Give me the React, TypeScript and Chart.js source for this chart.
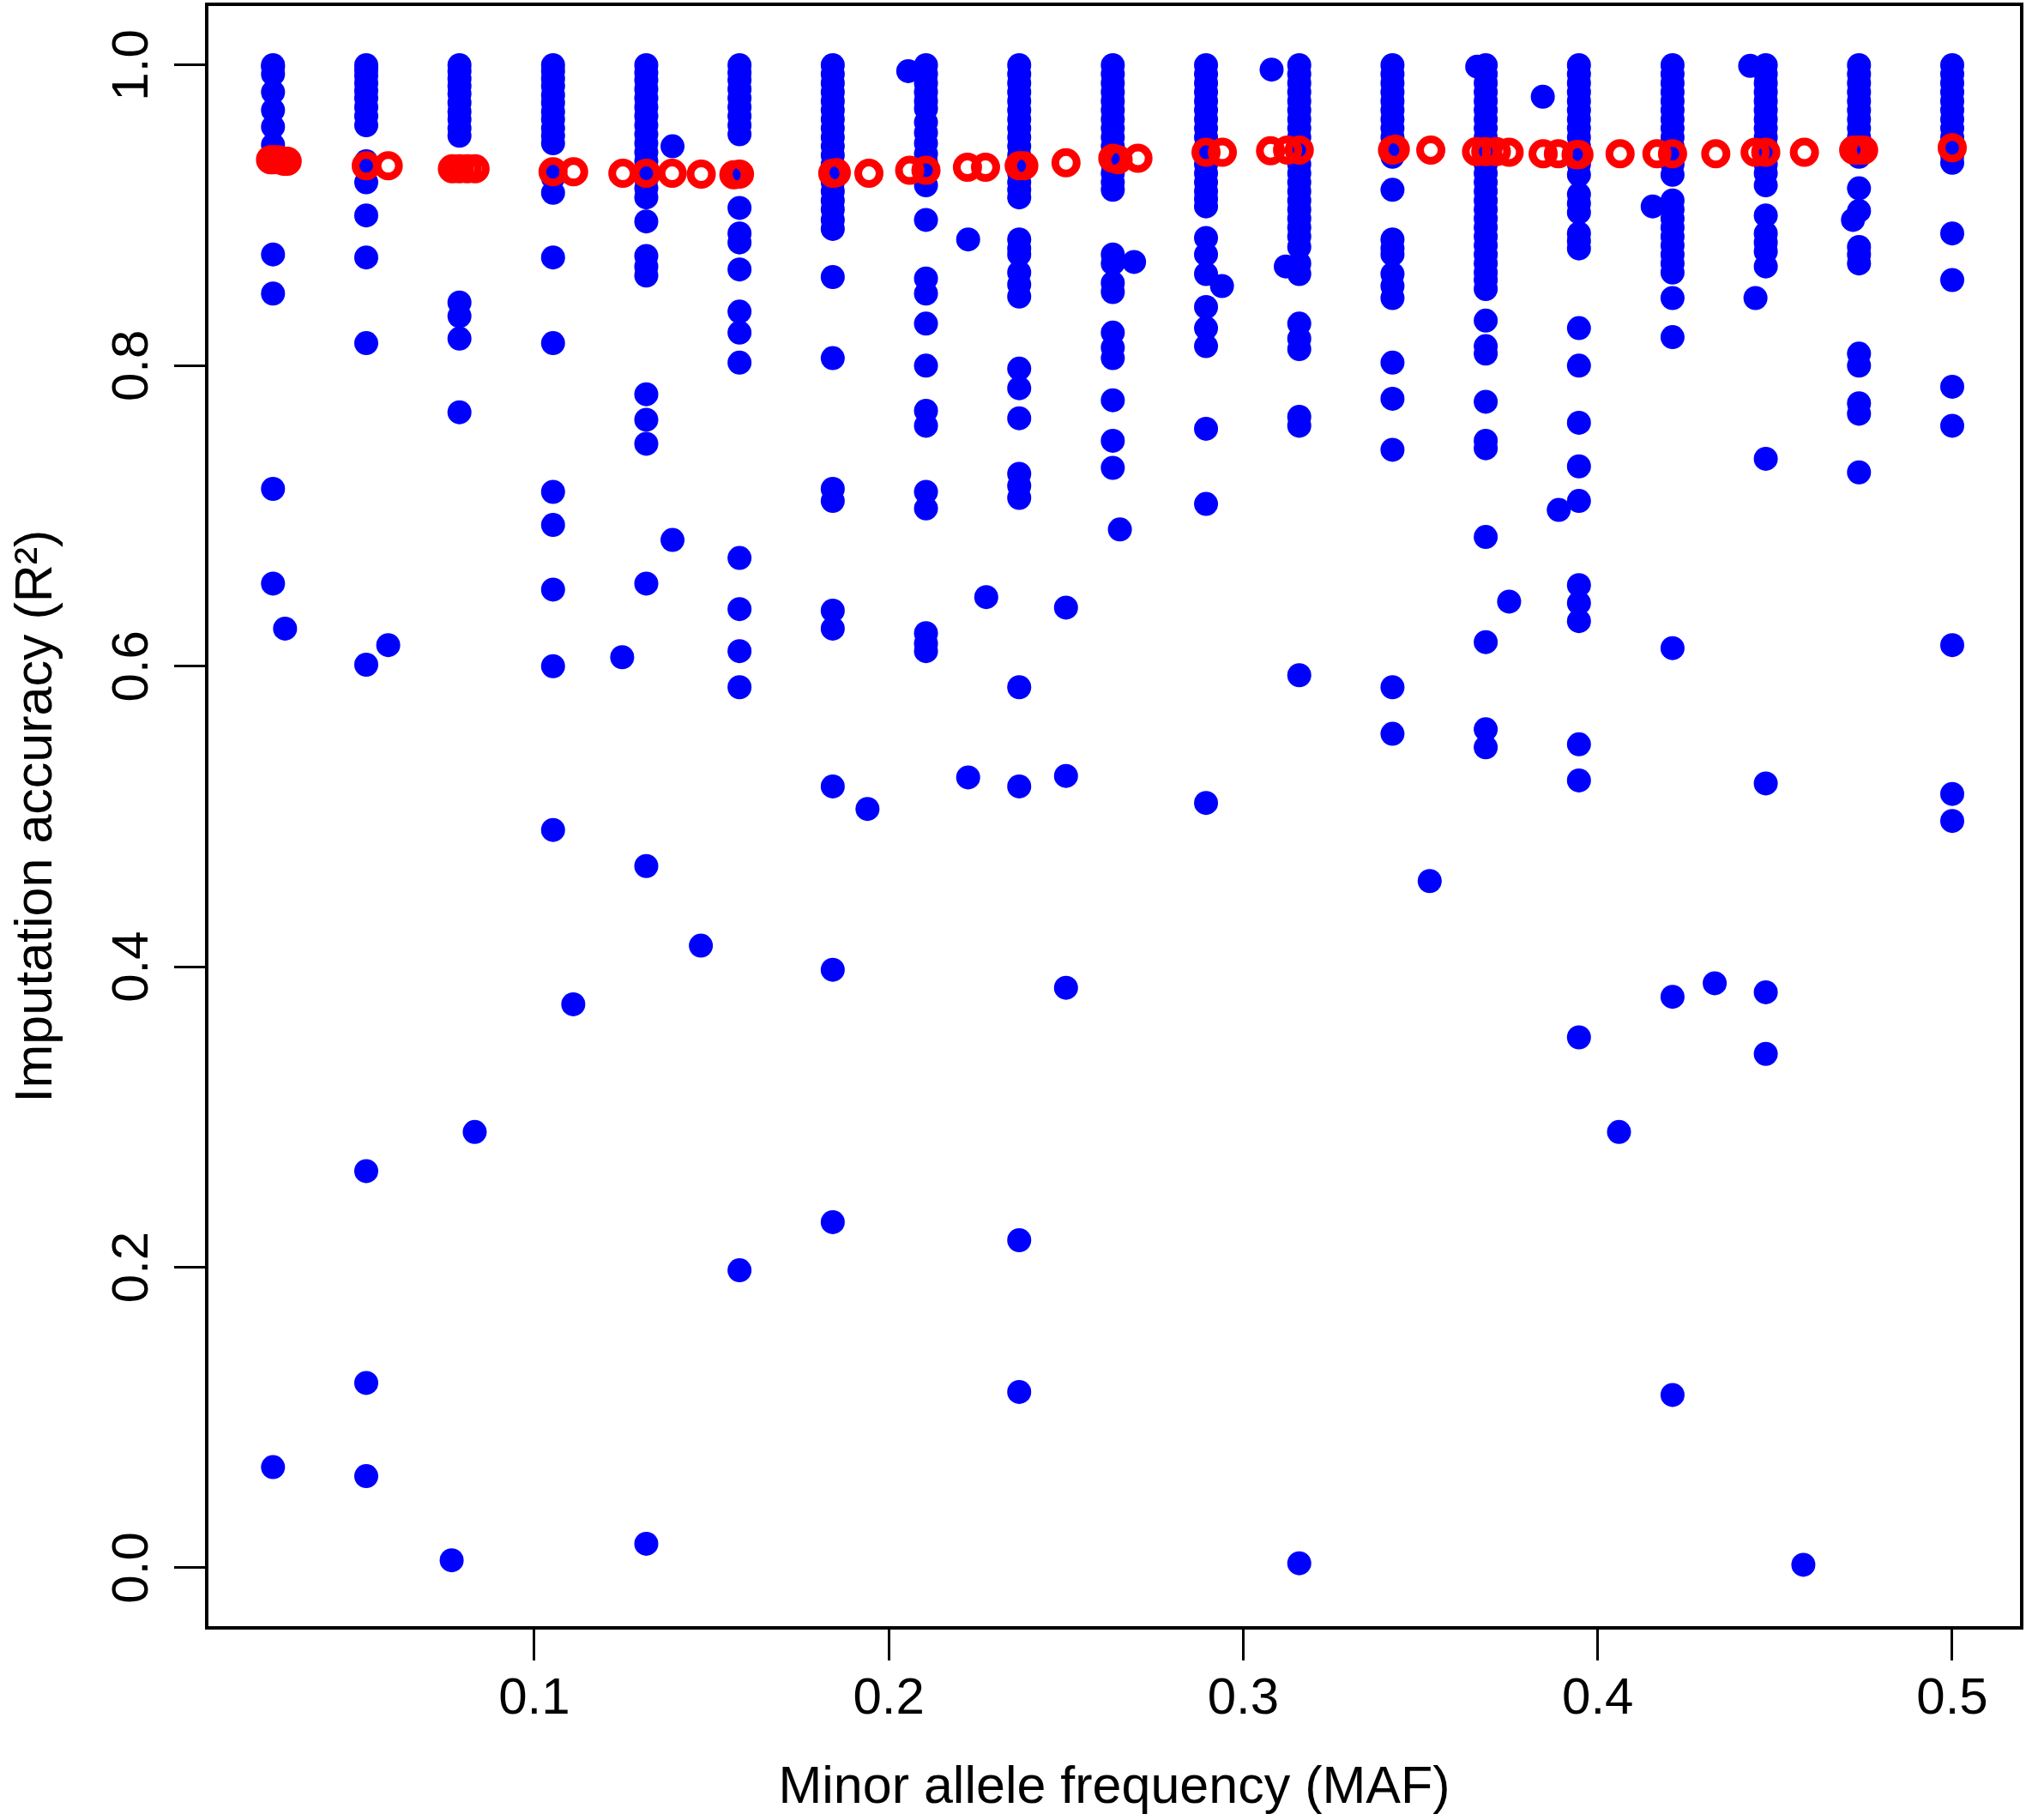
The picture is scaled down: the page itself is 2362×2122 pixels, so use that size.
import React, { useEffect, useRef } from 'react';
import Chart from 'chart.js/auto';

// MAF columns (k/38 chromosomes) and the R² of the SNPs at each
const columnMaf = [0.0263, 0.0526, 0.0789, 0.1053, 0.1316, 0.1579, 0.1842, 0.2105, 0.2368, 0.2632,
  0.2895, 0.3158, 0.3421, 0.3684, 0.3947, 0.4211, 0.4474, 0.4737, 0.5];

const columnR2: number[][] = [
  [1.0, 0.999, 0.994, 0.982, 0.97, 0.959, 0.947, 0.938, 0.874, 0.848, 0.718, 0.655, 0.067],
  [1.0, 0.997, 0.993, 0.988, 0.983, 0.978, 0.972, 0.966, 0.96, 0.936, 0.922, 0.9, 0.872, 0.815, 0.601, 0.264, 0.123, 0.061],
  [1.0, 0.996, 0.991, 0.986, 0.981, 0.975, 0.969, 0.964, 0.958, 0.953, 0.932, 0.842, 0.833, 0.818, 0.769],
  [1.0, 0.996, 0.991, 0.986, 0.98, 0.975, 0.969, 0.964, 0.958, 0.953, 0.948, 0.93, 0.925, 0.915, 0.872, 0.815, 0.716, 0.694, 0.651, 0.6, 0.491],
  [1.0, 0.995, 0.99, 0.984, 0.978, 0.972, 0.966, 0.96, 0.954, 0.948, 0.942, 0.936, 0.93, 0.924, 0.918, 0.912, 0.896, 0.873, 0.866, 0.86, 0.781, 0.764, 0.748, 0.655, 0.467, 0.016],
  [1.0, 0.995, 0.99, 0.984, 0.978, 0.972, 0.966, 0.96, 0.954, 0.927, 0.905, 0.888, 0.882, 0.864, 0.836, 0.822, 0.802, 0.672, 0.638, 0.61, 0.586, 0.198],
  [1.0, 0.994, 0.988, 0.982, 0.976, 0.97, 0.964, 0.958, 0.952, 0.946, 0.94, 0.934, 0.928, 0.922, 0.916, 0.91, 0.904, 0.897, 0.891, 0.859, 0.805, 0.718, 0.71, 0.637, 0.625, 0.52, 0.398, 0.23],
  [1.0, 0.994, 0.988, 0.982, 0.976, 0.971, 0.962, 0.955, 0.948, 0.941, 0.935, 0.929, 0.92, 0.897, 0.858, 0.848, 0.828, 0.8, 0.77, 0.76, 0.716, 0.705, 0.622, 0.615, 0.61],
  [1.0, 0.994, 0.988, 0.982, 0.976, 0.97, 0.964, 0.958, 0.952, 0.946, 0.94, 0.934, 0.928, 0.922, 0.917, 0.912, 0.884, 0.878, 0.874, 0.862, 0.854, 0.846, 0.798, 0.785, 0.765, 0.728, 0.72, 0.712, 0.586, 0.52, 0.218, 0.117],
  [1.0, 0.994, 0.988, 0.982, 0.976, 0.97, 0.964, 0.958, 0.952, 0.946, 0.94, 0.934, 0.928, 0.922, 0.917, 0.874, 0.868, 0.855, 0.849, 0.822, 0.812, 0.805, 0.777, 0.75, 0.732],
  [1.0, 0.994, 0.988, 0.982, 0.976, 0.97, 0.964, 0.958, 0.952, 0.946, 0.94, 0.934, 0.928, 0.922, 0.916, 0.911, 0.906, 0.885, 0.874, 0.861, 0.839, 0.825, 0.813, 0.758, 0.708, 0.509],
  [1.0, 0.994, 0.988, 0.982, 0.976, 0.97, 0.964, 0.958, 0.952, 0.946, 0.94, 0.934, 0.928, 0.922, 0.916, 0.91, 0.904, 0.898, 0.892, 0.886, 0.879, 0.868, 0.861, 0.828, 0.818, 0.811, 0.766, 0.76, 0.594, 0.003],
  [1.0, 0.994, 0.988, 0.982, 0.976, 0.97, 0.964, 0.958, 0.952, 0.946, 0.939, 0.917, 0.884, 0.878, 0.874, 0.861, 0.853, 0.845, 0.802, 0.778, 0.744, 0.586, 0.555],
  [1.0, 0.994, 0.988, 0.982, 0.976, 0.97, 0.964, 0.958, 0.952, 0.946, 0.94, 0.934, 0.928, 0.922, 0.916, 0.91, 0.904, 0.898, 0.892, 0.886, 0.88, 0.874, 0.868, 0.862, 0.857, 0.851, 0.83, 0.813, 0.808, 0.776, 0.75, 0.745, 0.686, 0.616, 0.558, 0.546],
  [1.0, 0.994, 0.988, 0.982, 0.976, 0.97, 0.964, 0.958, 0.952, 0.946, 0.94, 0.934, 0.927, 0.914, 0.908, 0.902, 0.888, 0.883, 0.878, 0.825, 0.8, 0.762, 0.733, 0.71, 0.654, 0.642, 0.63, 0.548, 0.524, 0.353],
  [1.0, 0.994, 0.988, 0.982, 0.976, 0.97, 0.964, 0.958, 0.952, 0.946, 0.94, 0.934, 0.927, 0.91, 0.904, 0.898, 0.892, 0.886, 0.88, 0.874, 0.868, 0.862, 0.845, 0.819, 0.612, 0.38, 0.115],
  [1.0, 0.994, 0.988, 0.982, 0.976, 0.97, 0.964, 0.958, 0.952, 0.946, 0.94, 0.934, 0.928, 0.92, 0.9, 0.888, 0.882, 0.876, 0.866, 0.738, 0.522, 0.383, 0.342],
  [1.0, 0.994, 0.988, 0.982, 0.976, 0.97, 0.964, 0.958, 0.952, 0.946, 0.939, 0.918, 0.903, 0.879, 0.874, 0.868, 0.808, 0.8, 0.775, 0.768, 0.729],
  [1.0, 0.994, 0.988, 0.982, 0.976, 0.97, 0.964, 0.958, 0.952, 0.946, 0.94, 0.935, 0.888, 0.857, 0.786, 0.76, 0.614, 0.515, 0.497],
];

// SNPs whose MAF falls between the columns (missing genotypes)
const offMaf = [0.0297, 0.0588, 0.0767, 0.0832, 0.111, 0.1248, 0.139, 0.139, 0.147, 0.194, 0.2055, 0.2224,
  0.2224, 0.2275, 0.25, 0.25, 0.25, 0.2652, 0.2692, 0.294, 0.308, 0.312, 0.3526, 0.366, 0.375, 0.3845,
  0.389, 0.406, 0.4155, 0.433, 0.443, 0.4445, 0.458, 0.472];
const offR2 = [0.625, 0.614, 0.005, 0.29, 0.375, 0.606, 0.946, 0.684, 0.414, 0.505, 0.996, 0.884,
  0.526, 0.646, 0.639, 0.527, 0.386, 0.691, 0.869, 0.853, 0.997, 0.866, 0.457, 0.999, 0.643, 0.979,
  0.704, 0.29, 0.906, 0.389, 0.9995, 0.845, 0.002, 0.897];

// mean R² for each distinct MAF (red open circles)
const meanMaf = [0.0256, 0.0263, 0.0278, 0.0294, 0.0303, 0.0526, 0.0588, 0.0769, 0.0789, 0.0811, 0.0833,
  0.1053, 0.1111, 0.125, 0.1316, 0.1389, 0.1471, 0.1563, 0.1579, 0.1842, 0.1852, 0.1944, 0.2059, 0.2105,
  0.2222, 0.2273, 0.2368, 0.2381, 0.25, 0.2632, 0.2647, 0.2703, 0.2895, 0.2941, 0.3077, 0.3125, 0.3158,
  0.3421, 0.3429, 0.3529, 0.3658, 0.3684, 0.3714, 0.375, 0.3846, 0.3889, 0.3939, 0.3947, 0.4063, 0.4167,
  0.4211, 0.4333, 0.4444, 0.4474, 0.4583, 0.4722, 0.4737, 0.475, 0.5];
const meanR2 = [0.937, 0.937, 0.937, 0.936, 0.936, 0.933, 0.933, 0.931, 0.931, 0.931, 0.931,
  0.929, 0.929, 0.928, 0.928, 0.928, 0.9275, 0.927, 0.9275, 0.928, 0.9285, 0.928, 0.93, 0.93,
  0.932, 0.932, 0.933, 0.933, 0.935, 0.938, 0.937, 0.938, 0.942, 0.942, 0.943, 0.9435, 0.9435,
  0.9435, 0.944, 0.9435, 0.9425, 0.9425, 0.9425, 0.942, 0.941, 0.941, 0.9405, 0.9405, 0.941, 0.941,
  0.941, 0.941, 0.942, 0.942, 0.942, 0.9435, 0.9435, 0.9435, 0.945];

const xTickValues = [0.1, 0.2, 0.3, 0.4, 0.5];
const yTickValues = [0.0, 0.2, 0.4, 0.6, 0.8, 1.0];

const FONT = "'Liberation Sans', Arial, Helvetica, sans-serif";

const boxPlugin = {
  id: 'plotBox',
  afterDraw(chart: any) {
    const { ctx, chartArea } = chart;
    ctx.save();
    ctx.strokeStyle = '#000';
    ctx.lineWidth = 4;
    ctx.strokeRect(chartArea.left, chartArea.top, chartArea.right - chartArea.left, chartArea.bottom - chartArea.top);
    ctx.restore();
  },
};

const ImputationChart: React.FC = () => {
  const canvasRef = useRef<HTMLCanvasElement>(null);
  const chartRef = useRef<Chart | null>(null);

  useEffect(() => {
    if (!canvasRef.current) return;
    if (chartRef.current) chartRef.current.destroy();

    const snps: { x: number; y: number }[] = [];
    columnR2.forEach((vals, i) => vals.forEach((v) => snps.push({ x: columnMaf[i], y: v })));
    offMaf.forEach((m, i) => snps.push({ x: m, y: offR2[i] }));
    const means = meanMaf.map((m, i) => ({ x: m, y: meanR2[i] }));

    chartRef.current = new Chart(canvasRef.current, {
      type: 'scatter',
      data: {
        datasets: [
          {
            label: 'mean',
            data: means,
            pointRadius: 12.5,
            pointBorderWidth: 9,
            pointBorderColor: '#ff0000',
            pointBackgroundColor: 'rgba(0,0,0,0)',
          },
          {
            label: 'SNP',
            data: snps,
            pointRadius: 14,
            pointBorderWidth: 0,
            pointBackgroundColor: '#0000ff',
            pointBorderColor: '#0000ff',
          },
        ],
      },
      options: {
        responsive: false,
        devicePixelRatio: 1,
        animation: false,
        layout: { autoPadding: false, padding: { top: 5, right: 5, left: 0, bottom: 0 } },
        plugins: { legend: { display: false }, tooltip: { enabled: false } },
        scales: {
          x: {
            type: 'linear',
            min: 0.0076,
            max: 0.5196,
            afterBuildTicks: (scale: any) => {
              scale.ticks = xTickValues.map((v) => ({ value: v }));
            },
            afterFit: (scale: any) => {
              scale.height = 224;
              scale.paddingLeft = 0;
              scale.paddingRight = 0;
            },
            ticks: {
              color: '#000',
              font: { family: FONT, size: 60 },
              padding: 9,
              maxRotation: 0,
              callback: (v: any) => String(v),
            },
            grid: { drawOnChartArea: false, drawTicks: true, tickLength: 38, tickColor: '#000', lineWidth: 3 },
            border: { display: false },
            title: {
              display: true,
              text: 'Minor allele frequency (MAF)',
              color: '#000',
              font: { family: FONT, size: 61, lineHeight: 1.2 },
              padding: { top: 0, bottom: 0 },
            },
          },
          y: {
            type: 'linear',
            min: -0.04,
            max: 1.0405,
            afterBuildTicks: (scale: any) => {
              scale.ticks = yTickValues.map((v) => ({ value: v }));
            },
            afterFit: (scale: any) => {
              scale.width = 241;
              scale.paddingTop = 0;
              scale.paddingBottom = 0;
            },
            ticks: {
              color: '#000',
              font: { family: FONT, size: 60 },
              padding: 6,
              minRotation: 90,
              maxRotation: 90,
              crossAlign: 'center',
              callback: (v: any) => Number(v).toFixed(1),
            },
            grid: { drawOnChartArea: false, drawTicks: true, tickLength: 38, tickColor: '#000', lineWidth: 3 },
            border: { display: false },
            title: {
              display: true,
              text: 'Imputation accuracy (R²)',
              color: '#000',
              font: { family: FONT, size: 61, lineHeight: 1.2 },
              padding: { top: 7, bottom: 0 },
            },
          },
        },
      },
      plugins: [boxPlugin],
    });

    return () => {
      if (chartRef.current) {
        chartRef.current.destroy();
        chartRef.current = null;
      }
    };
  }, []);

  return (
    <div style={{ position: 'absolute', left: 0, top: 0, width: 2362, height: 2122, background: '#fff' }}>
      <canvas ref={canvasRef} width={2362} height={2122}></canvas>
    </div>
  );
};

export default function App() {
  return <ImputationChart />;
}
